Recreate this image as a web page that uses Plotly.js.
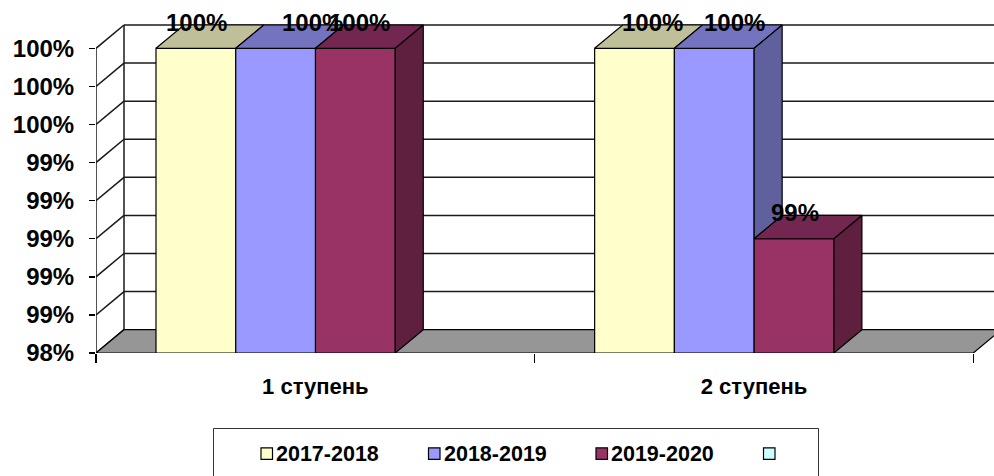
<!DOCTYPE html>
<html>
<head>
<meta charset="utf-8">
<script src="https://cdn.plot.ly/plotly-3.0.1.min.js"></script>
<style>html,body{margin:0;padding:0;background:#fff;}#chart{width:994px;height:476px;}</style>
</head>
<body>
<div id="chart"></div>
<script>
// ---- data ----
var categories = ["1 ступень", "2 ступень"];
var seriesNames = ["2017-2018", "2018-2019", "2019-2020"];
var values2017 = [100, 100];
var values2018 = [100, 100];
var values2019 = [100, 99];
var yTickVals = [98.4, 98.6, 98.8, 99.0, 99.2, 99.4, 99.6, 99.8, 100.0];
var yTickLabels = ["98%", "99%", "99%", "99%", "99%", "99%", "100%", "100%", "100%"];
var legendNames = ["2017-2018", "2018-2019", "2019-2020", ""];

// ---- style ----
var frontColors = ["#FFFFCC", "#9999FF", "#993366"];
var topColors = ["#BFBF99", "#7373BF", "#732650"];
var sideColors = ["#9E9E7E", "#60609F", "#5F1F3F"];
var legendColors = ["#FFFFCC", "#9999FF", "#993366", "#CCFFFF"];
var labelShift = [[1, 18], [37, 20], [4, 1]]; // px, per series per category

var FONT = "Liberation Sans, Arial, sans-serif";

var W = 994, H = 476, ML = 96, MB = 123, MT = 0;
var PXU = 438.65;              // px per category
var PYU = 190.44;              // px per 1 percent
var F = yTickVals[0];          // floor value
var YTOP = F + (H - MB - MT) / PYU;
var XMIN = -0.5, XMAX = -0.5 + (W - ML) / PXU;
var DX = 28 / PXU, DY = 23.3 / PYU;   // depth offset
var BW = 1 / 5.5;              // bar width (gap width 250%)
var GS = -0.0905;              // group shift

var seriesValues = [values2017, values2018, values2019];
var catIdx = categories.map(function (c, i) { return i; });

function fmt(v) { return Math.round(v) + "%"; }

var traces = [];
// front faces (bars)
seriesValues.forEach(function (vals, j) {
  traces.push({
    type: "bar",
    name: seriesNames[j],
    x: catIdx.map(function (i) { return i + GS + (j - 1) * BW; }),
    y: vals.map(function (v) { return v - F; }),
    base: F,
    width: BW,
    marker: { color: frontColors[j], line: { color: "#000", width: 1.2 } },
    showlegend: false,
    hoverinfo: "skip"
  });
});

function poly(pts, color) {
  return {
    type: "scatter", mode: "lines", fill: "toself", fillcolor: color,
    x: pts.map(function (p) { return p[0]; }).concat([pts[0][0]]),
    y: pts.map(function (p) { return p[1]; }).concat([pts[0][1]]),
    line: { color: "#000", width: 1.2 }, showlegend: false, hoverinfo: "skip"
  };
}

// tops and sides
catIdx.forEach(function (i) {
  seriesValues.forEach(function (vals, j) {
    var xc = i + GS + (j - 1) * BW, xl = xc - BW / 2, xr = xc + BW / 2;
    var v = vals[i];
    var w = (j < seriesValues.length - 1) ? seriesValues[j + 1][i] : F;
    if (j < seriesValues.length - 1 && w > v) {
      traces.push(poly([[xl, v], [xr, v], [xr, v + DY], [xl + DX, v + DY]], topColors[j]));
    } else {
      traces.push(poly([[xl, v], [xr, v], [xr + DX, v + DY], [xl + DX, v + DY]], topColors[j]));
    }
    if (w < v) {
      traces.push(poly([[xr, w], [xr + DX, w + DY], [xr + DX, v + DY], [xr, v]], sideColors[j]));
    }
  });
});

// walls & floor as shapes below traces
var shapes = [];
var gl = { color: "#1a1a1a", width: 1.5 };
yTickVals.forEach(function (v) {
  shapes.push({ type: "line", layer: "below", xref: "x", yref: "y", x0: XMIN + DX, x1: 1.5 + DX + 0.2, y0: v + DY, y1: v + DY, line: gl });
  shapes.push({ type: "line", layer: "below", xref: "x", yref: "y", x0: XMIN, x1: XMIN + DX, y0: v, y1: v + DY, line: gl });
});
var yMax = yTickVals[yTickVals.length - 1];
shapes.push({ type: "line", layer: "below", xref: "x", yref: "y", x0: XMIN, x1: XMIN, y0: F, y1: yMax, line: gl });
shapes.push({ type: "line", layer: "below", xref: "x", yref: "y", x0: XMIN + DX, x1: XMIN + DX, y0: F + DY, y1: yMax + DY, line: gl });
shapes.push({
  type: "path", layer: "below", xref: "x", yref: "y",
  path: "M" + XMIN + "," + F + " L1.5," + F + " L" + (1.5 + DX) + "," + (F + DY) + " L" + (XMIN + DX) + "," + (F + DY) + " Z",
  fillcolor: "#969696", line: { color: "#000", width: 1.2 }
});

// legend (manual)
function pxX(px) { return (px - ML) / (W - ML); }
function pxY(py) { return (H - MB - py) / (H - MB - MT); }
shapes.push({ type: "rect", xref: "paper", yref: "paper", x0: pxX(213.5), x1: pxX(818.5), y0: pxY(480), y1: pxY(428.5), line: { color: "#333", width: 1 }, fillcolor: "rgba(0,0,0,0)" });
var annotations = [];
legendNames.forEach(function (n, k) {
  var sx = 261 + k * 167.5;
  shapes.push({ type: "rect", xref: "paper", yref: "paper", x0: pxX(sx), x1: pxX(sx + 11.5), y0: pxY(459.3), y1: pxY(447.8), line: { color: "#000", width: 1.2 }, fillcolor: legendColors[k] });
  if (n) {
    annotations.push({ xref: "paper", yref: "paper", x: pxX(sx + 13), y: pxY(453.6), xanchor: "left", yanchor: "middle", text: n, showarrow: false, font: { family: FONT, size: 21.5, color: "#000", weight: "bold" } });
  }
});

// data labels
seriesValues.forEach(function (vals, j) {
  catIdx.forEach(function (i) {
    annotations.push({
      x: i + GS + (j - 1) * BW, y: vals[i] + DY, xref: "x", yref: "y",
      xshift: labelShift[j][i], yshift: 3, text: fmt(vals[i]), showarrow: false,
      xanchor: "center", yanchor: "middle",
      font: { family: FONT, size: 24, color: "#000", weight: "bold" }
    });
  });
});

var layout = {
  width: W, height: H,
  margin: { l: ML, r: 0, t: MT, b: MB, pad: 0 },
  paper_bgcolor: "#fff", plot_bgcolor: "#fff",
  barmode: "overlay",
  showlegend: false,
  xaxis: {
    range: [XMIN, XMAX], tickmode: "array", tickvals: catIdx, ticktext: categories,
    ticks: "", showgrid: false, zeroline: false, showline: false,
    tickfont: { family: FONT, size: 22, color: "#000", weight: "bold" },
    ticklabelstandoff: 18,
    minor: { tickmode: "array", tickvals: [-0.5, 0.5, 1.5], ticks: "outside", ticklen: 9, tickwidth: 1.2, tickcolor: "#000", showgrid: false }
  },
  yaxis: {
    range: [F, YTOP], tickmode: "array", tickvals: yTickVals, ticktext: yTickLabels,
    ticks: "outside", ticklen: 6, tickwidth: 1.5, tickcolor: "#000",
    showgrid: false, zeroline: false, showline: false,
    tickfont: { family: FONT, size: 24, color: "#000", weight: "bold" },
    ticklabelstandoff: 10
  },
  shapes: shapes,
  annotations: annotations
};

Plotly.newPlot("chart", traces, layout, { staticPlot: true, displayModeBar: false });
</script>
</body>
</html>
